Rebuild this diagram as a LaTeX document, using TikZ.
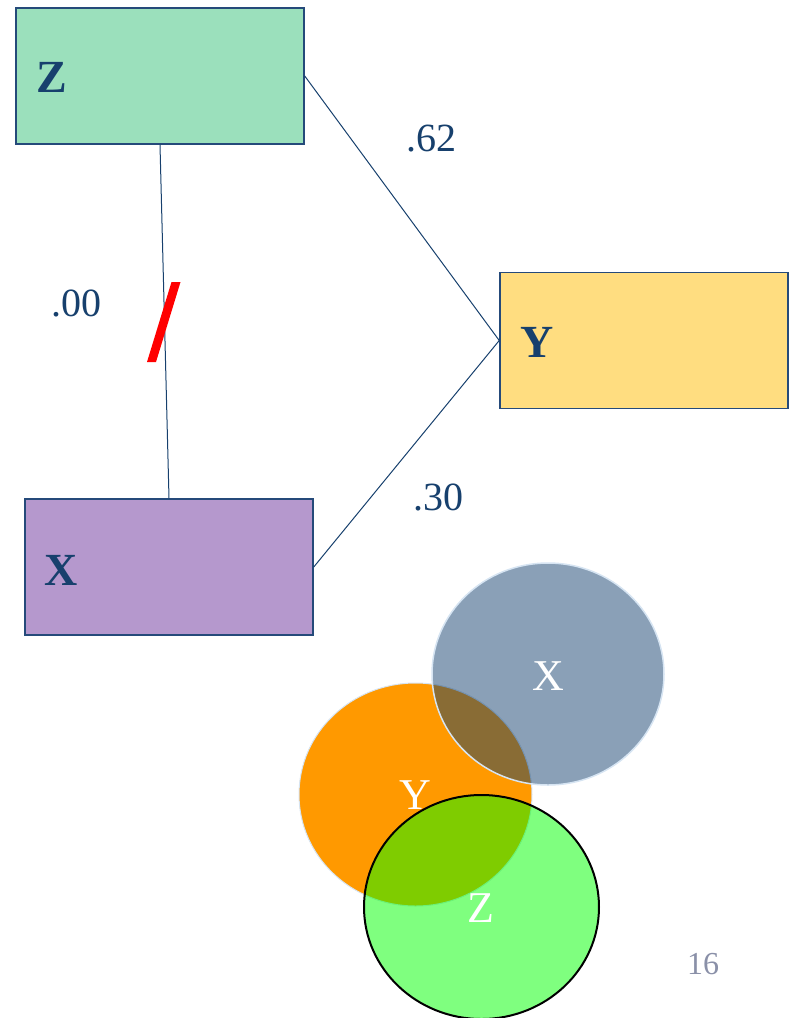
\documentclass[tikz,border=0pt]{standalone}
\usepackage{fontspec}
\setmainfont{Liberation Serif}
\definecolor{navy}{HTML}{17406D}
\definecolor{edge}{HTML}{254A7A}
\definecolor{zfill}{HTML}{9BE0BC}
\definecolor{yfill}{HTML}{FFDD80}
\definecolor{xfill}{HTML}{B598CD}
\definecolor{vx}{HTML}{103E6D}
\definecolor{vy}{HTML}{FF9900}
\definecolor{vz}{HTML}{00FF00}
\definecolor{pgnum}{HTML}{8A90A8}
\definecolor{rimlight}{HTML}{D6E4F2}
\begin{document}
\begin{tikzpicture}[x=1pt,y=-1pt,
  varbox/.style={draw=edge, line width=1.5pt, rectangle, minimum width=288pt, minimum height=136pt, inner sep=0pt},
  boxlbl/.style={text=navy, font=\fontsize{46}{50}\selectfont\bfseries, inner sep=0pt},
  coef/.style={text=navy, font=\fontsize{40}{44}\selectfont, inner sep=0pt},
  link/.style={draw=navy, line width=1pt},
  vennlbl/.style={text=white, font=\fontsize{44}{48}\selectfont, inner sep=0pt}]
\useasboundingbox (0,0) rectangle (792,1018);
% boxes
\node[varbox, fill=zfill] (Z) at (160,76) {};
\node[varbox, fill=yfill] (Y) at (644,340.5) {};
\node[varbox, fill=xfill] (X) at (169,567) {};
\node[boxlbl] (Zl) at (52,77) {Z};
\node[boxlbl] (Yl) at (537,342) {Y};
\node[boxlbl] (Xl) at (61,570) {X};
% connectors
\draw[link] (Z.south) -- (X.north);
\draw[link] (Z.east) -- (Y.west);
\draw[link] (X.east) -- (Y.west);
% coefficients
\node[coef] (c62) at (431,139) {.62};
\node[coef] (c00) at (76,303) {.00};
\node[coef] (c30) at (438,497) {.30};
% red slash (parallelogram with flat horizontal ends)
\fill[red] (171.5,282) -- (180.5,282) -- (156,362) -- (147,362) -- cycle;
% venn diagram
\fill[vy] (415.5,794.5) ellipse [x radius=116.5, y radius=111.5];
\draw[rimlight, line width=1pt] (415.5,794.5) ellipse [x radius=116.5, y radius=111.5];
\fill[vx, fill opacity=0.49] (548,674) ellipse [x radius=116, y radius=111];
\draw[rimlight, line width=1.5pt] (548,674) ellipse [x radius=116, y radius=111];
\fill[vz, fill opacity=0.5] (481.5,907) ellipse [x radius=117.5, y radius=112];
\draw[black, line width=2pt] (481.5,907) ellipse [x radius=117.5, y radius=112];
\node[vennlbl] (vXl) at (548,676) {X};
\node[vennlbl] (vYl) at (415,795) {Y};
\node[vennlbl] (vZl) at (481,908) {Z};
% page number
\node[text=pgnum, font=\fontsize{32}{35}\selectfont, inner sep=0pt] (pg) at (703,964) {16};
\end{tikzpicture}
\end{document}
